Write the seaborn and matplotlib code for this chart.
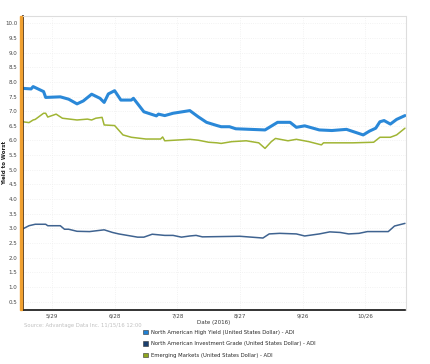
import pandas as pd
import matplotlib
matplotlib.use('Agg')
import matplotlib.pyplot as plt
import matplotlib.patches as mpatches
import seaborn as sns

# ─────────────────────────────────────────────
# Data
# ─────────────────────────────────────────────
hy_dates = ['2016-05-15', '2016-05-19', '2016-05-20', '2016-05-25', '2016-05-26', '2016-06-02',
            '2016-06-06', '2016-06-10', '2016-06-13', '2016-06-17', '2016-06-21', '2016-06-23',
            '2016-06-25', '2016-06-28', '2016-07-01', '2016-07-06', '2016-07-07', '2016-07-12',
            '2016-07-18', '2016-07-19', '2016-07-22', '2016-07-26', '2016-08-03', '2016-08-07',
            '2016-08-11', '2016-08-16', '2016-08-18', '2016-08-22', '2016-08-25', '2016-09-08',
            '2016-09-14', '2016-09-20', '2016-09-23', '2016-09-27', '2016-10-04', '2016-10-10',
            '2016-10-17', '2016-10-25', '2016-10-28', '2016-10-31', '2016-11-02', '2016-11-04',
            '2016-11-07', '2016-11-10', '2016-11-14']
hy_values = [7.78, 7.76, 7.84, 7.67, 7.47, 7.49, 7.41, 7.25, 7.35, 7.58, 7.44, 7.30,
             7.59, 7.70, 7.38, 7.38, 7.44, 6.98, 6.84, 6.90, 6.85, 6.93, 7.02, 6.81,
             6.62, 6.51, 6.47, 6.47, 6.40, 6.36, 6.62, 6.62, 6.45, 6.50, 6.36, 6.34,
             6.38, 6.19, 6.32, 6.42, 6.64, 6.68, 6.56, 6.72, 6.85]

ig_dates = ['2016-05-15', '2016-05-18', '2016-05-21', '2016-05-26', '2016-05-27', '2016-06-02',
            '2016-06-04', '2016-06-06', '2016-06-10', '2016-06-16', '2016-06-23', '2016-06-27',
            '2016-06-30', '2016-07-09', '2016-07-12', '2016-07-16', '2016-07-22', '2016-07-26',
            '2016-07-30', '2016-08-03', '2016-08-06', '2016-08-09', '2016-08-27', '2016-09-07',
            '2016-09-10', '2016-09-15', '2016-09-23', '2016-09-27', '2016-10-04', '2016-10-09',
            '2016-10-14', '2016-10-18', '2016-10-23', '2016-10-27', '2016-11-06', '2016-11-09',
            '2016-11-14']
ig_values = [2.98, 3.09, 3.14, 3.14, 3.09, 3.09, 2.97, 2.97, 2.90, 2.89, 2.95, 2.86,
             2.81, 2.70, 2.70, 2.80, 2.76, 2.76, 2.70, 2.74, 2.76, 2.71, 2.73, 2.67,
             2.81, 2.83, 2.81, 2.74, 2.81, 2.88, 2.86, 2.81, 2.83, 2.89, 2.89, 3.08,
             3.17]

em_dates = ['2016-05-15', '2016-05-18', '2016-05-20', '2016-05-21', '2016-05-25', '2016-05-26',
            '2016-05-27', '2016-05-31', '2016-06-03', '2016-06-10', '2016-06-15', '2016-06-17',
            '2016-06-19', '2016-06-22', '2016-06-23', '2016-06-28', '2016-07-02', '2016-07-06',
            '2016-07-13', '2016-07-20', '2016-07-21', '2016-07-22', '2016-08-03', '2016-08-07',
            '2016-08-12', '2016-08-16', '2016-08-18', '2016-08-23', '2016-08-30', '2016-09-05',
            '2016-09-08', '2016-09-11', '2016-09-13', '2016-09-19', '2016-09-23', '2016-09-29',
            '2016-10-05', '2016-10-06', '2016-10-20', '2016-10-30', '2016-11-02', '2016-11-07',
            '2016-11-10', '2016-11-14']
em_values = [6.64, 6.61, 6.70, 6.72, 6.93, 6.93, 6.80, 6.90, 6.76, 6.70, 6.73, 6.70,
             6.76, 6.79, 6.53, 6.51, 6.19, 6.11, 6.05, 6.05, 6.12, 5.99, 6.04, 6.01,
             5.94, 5.92, 5.90, 5.96, 5.99, 5.92, 5.73, 5.96, 6.07, 5.99, 6.04, 5.96,
             5.85, 5.92, 5.92, 5.94, 6.11, 6.11, 6.19, 6.42]

series_labels = ['North American High Yield (United States Dollar) - ADI',
                 'North American Investment Grade (United States Dollar) - ADI',
                 'Emerging Markets (United States Dollar) - ADI']
x_tick_dates = ['2016-05-29', '2016-06-28', '2016-07-28', '2016-08-27', '2016-09-26', '2016-10-26']
x_tick_labels = ['5/29', '6/28', '7/28', '8/27', '9/26', '10/26']
y_ticks = [i / 2 for i in range(1, 21)]

LINE_COLORS = ['#2a88d8', '#3f6390', '#a0b534']
LEGEND_COLORS = ['#1f80d4', '#1b3f6e', '#8ea61e']

# ─────────────────────────────────────────────
# Plot
# ─────────────────────────────────────────────
sns.set_style('white')
plt.rcParams['font.family'] = ['DejaVu Sans']

fig = plt.figure(figsize=(4.3, 3.64), dpi=100)
ax = fig.add_axes([22.7 / 430, 1 - 309.5 / 364, (405.5 - 22.7) / 430, (309.5 - 16) / 364])

frames = [
    (hy_dates, hy_values, LINE_COLORS[0], 2.2),
    (ig_dates, ig_values, LINE_COLORS[1], 1.1),
    (em_dates, em_values, LINE_COLORS[2], 1.1),
]
for dates, vals, col, lw in frames:
    df = pd.DataFrame({'date': pd.to_datetime(dates), 'value': vals})
    sns.lineplot(data=df, x='date', y='value', ax=ax, color=col, linewidth=lw)

ax.set_xlim(pd.Timestamp('2016-05-15'), pd.Timestamp('2016-11-14 06:00'))
ax.set_ylim(0.23, 10.25)
ax.set_xticks(pd.to_datetime(x_tick_dates))
ax.set_xticklabels(x_tick_labels)
ax.set_yticks(y_ticks)
ax.set_yticklabels([f'{v:.1f}' for v in y_ticks])
ax.tick_params(axis='both', labelsize=4, colors='#444444', length=2, width=0.5, pad=2)
ax.tick_params(axis='x', length=0, pad=3)

ax.grid(True, color='#eeeeee', linewidth=0.6, linestyle=':')
ax.set_axisbelow(True)

for side in ['top', 'right']:
    ax.spines[side].set_color('#dddddd')
    ax.spines[side].set_linewidth(0.8)
ax.spines['bottom'].set_color('#111111')
ax.spines['bottom'].set_linewidth(1.2)
ax.spines['left'].set_color('#2a1608')
ax.spines['left'].set_linewidth(1.2)

# orange band next to the y-axis
fig.patches.append(mpatches.Rectangle((20 / 430, 1 - 309.5 / 364), 2.2 / 430, (309.5 - 16) / 364,
                                      transform=fig.transFigure, color='#f0a030', zorder=0))

ax.set_xlabel('Date (2016)', fontsize=4, color='#333333', labelpad=1)
ax.set_ylabel('Yield to Worst', fontsize=4, color='#222222', fontweight='bold')
ax.yaxis.set_label_coords((7 - 22.7) / 382.8, 0.5)

fig.text(24 / 430, 1 - 325.5 / 364, 'Source: Advantage Data Inc. 11/15/16 12:00',
         fontsize=3.8, color='#c0c0c0', va='center', ha='left')

handles = [mpatches.Patch(facecolor=c, edgecolor='#333333', linewidth=0.4, label=l)
           for c, l in zip(LEGEND_COLORS, series_labels)]
fig.legend(handles=handles, loc='upper left', bbox_to_anchor=(143 / 430, 1 - 330 / 364),
           frameon=False, fontsize=3.8, handlelength=0.9, handleheight=0.9,
           handletextpad=0.6, labelspacing=1.2, borderaxespad=0, borderpad=0)

plt.savefig('out.png', dpi=100)
plt.close()
